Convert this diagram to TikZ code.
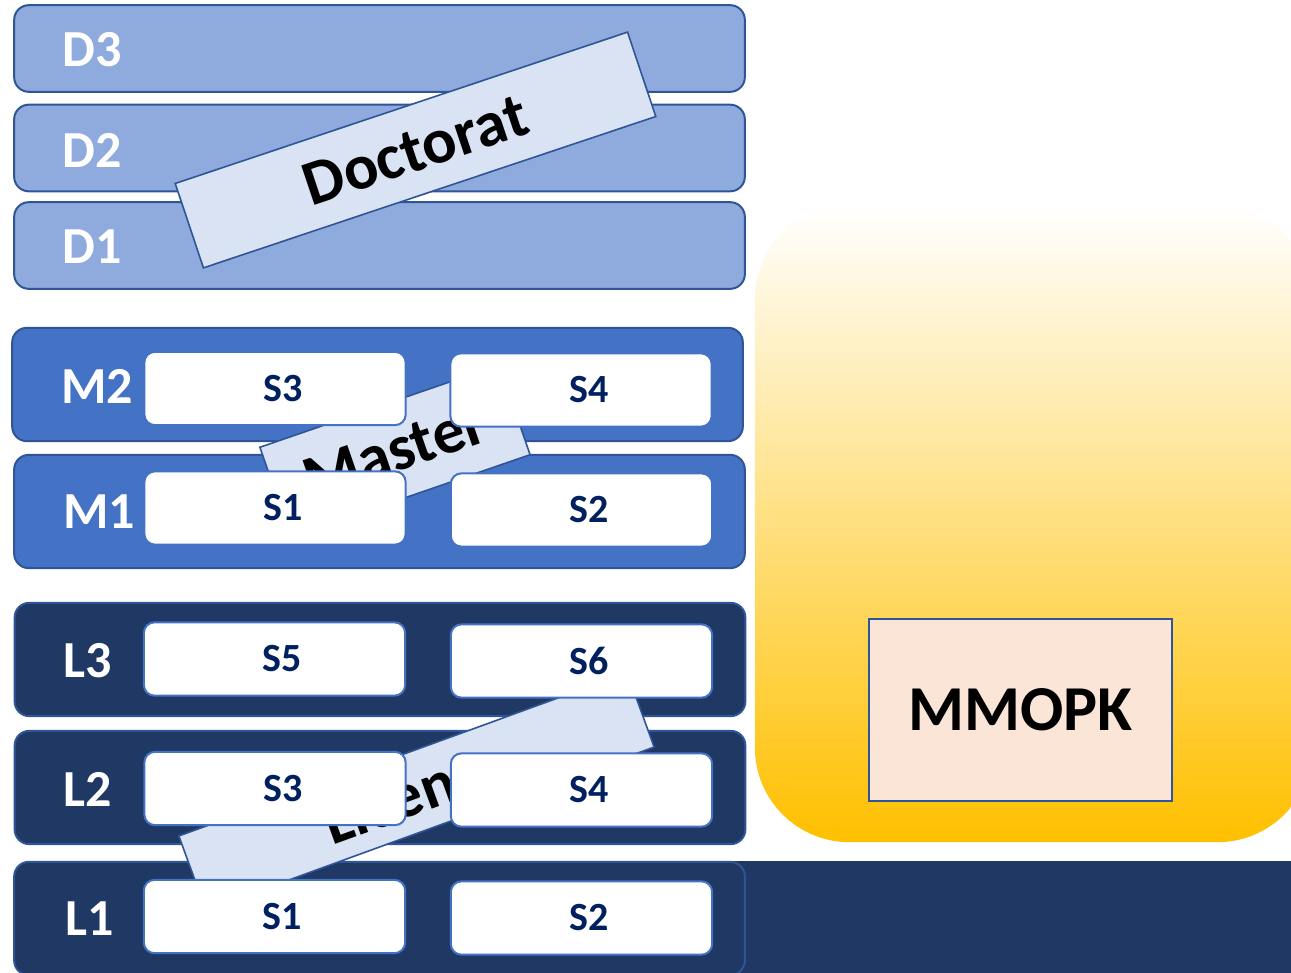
\documentclass[tikz,border=0pt]{standalone}
\usepackage{fontspec}
\setmainfont{Carlito}
\definecolor{dblue}{HTML}{8FAADC}
\definecolor{mblue}{HTML}{4472C4}
\definecolor{lnavy}{HTML}{203864}
\definecolor{edgeblue}{HTML}{2F5597}
\definecolor{paper}{HTML}{DAE3F3}
\definecolor{sblue}{HTML}{002060}
\definecolor{gold}{HTML}{FFC000}
\definecolor{cream}{HTML}{F8E2A0}
\definecolor{peach}{HTML}{FBE5D6}
\begin{document}
\begin{tikzpicture}[
    x=0.75pt, y=-0.75pt,
    bar/.style={draw=edgeblue, line width=1.5pt, rounded corners=11pt, minimum width=548pt},
    dbar/.style={bar, fill=dblue, minimum height=65pt},
    mbar/.style={bar, fill=mblue, minimum height=85pt},
    lbar/.style={bar, fill=lnavy, minimum height=85pt},
    sem/.style={draw=mblue, line width=1.5pt, fill=white, rounded corners=8pt, minimum width=196pt, minimum height=55pt, text=sblue, font=\fontsize{30}{30}\selectfont\bfseries, execute at begin node={\hspace*{12pt}}},
    yearlab/.style={text=white, font=\fontsize{39}{39}\selectfont\bfseries},
    cycle/.style={draw=edgeblue, line width=1.2pt, fill=paper, font=\fontsize{48}{48}\selectfont\bfseries}
]
    \clip (0,0) rectangle (1291,973);

    % Right side
    \node[rounded corners=71pt, minimum width=418pt, minimum height=478pt, top color=white, middle color=cream, bottom color=gold] (panel) at (1033.5,523.5) {};
    \node[fill=lnavy, minimum width=450pt, minimum height=88pt] (base) at (1000,920) {};
    \node[draw=edgeblue, line width=1.5pt, fill=peach, minimum width=227pt, minimum height=136.5pt, font=\fontsize{48}{48}\selectfont\bfseries] (mmopk) at (1020.5,710) {MMOPK};

    % Doctorat years
    \node[dbar] (d3) at (379.5,48.5) {};
    \node[dbar] (d2) at (379.5,148) {};
    \node[dbar] (d1) at (379.5,245.5) {};

    % Master years
    \node[mbar] (m2) at (377.5,384.5) {};
    \node[mbar] (m1) at (379.5,511.5) {};

    % Licence years
    \node[lbar] (l3) at (380,659.5) {};
    \node[lbar] (l2) at (380,787.5) {};
    \node[lbar] (l1) at (379.5,918.5) {};

    % Cycles
    \node[cycle, rotate=18.5, minimum width=357.75pt, minimum height=66.75pt] (doc) at (415.5,150) {Doctorat};
    \node[cycle, rotate=19, minimum width=189.75pt, minimum height=71.25pt] (mas) at (395,451) {Master};
    \node[cycle, rotate=20, minimum width=357.75pt, minimum height=59.25pt] (lic) at (416.5,791.5) {Licence};

    % Semesters
    \node[sem] (m2a) at (275,388.5) {S3};
    \node[sem] (m2b) at (581,390) {S4};
    \node[sem] (m1a) at (275,508) {S1};
    \node[sem] (m1b) at (581.5,510) {S2};
    \node[sem] (l3a) at (274.5,659) {S5};
    \node[sem] (l3b) at (581.5,661) {S6};
    \node[sem] (l2a) at (275,788.5) {S3};
    \node[sem] (l2b) at (581.5,790) {S4};
    \node[sem] (l1a) at (274.5,916.5) {S1};
    \node[sem] (l1b) at (581.5,918) {S2};

    % Year labels
    \node[yearlab] (d3t) at (92,50) {D3};
    \node[yearlab] (d2t) at (92,150) {D2};
    \node[yearlab] (d1t) at (92,247) {D1};
    \node[yearlab] (m2t) at (97,386) {M2};
    \node[yearlab] (m1t) at (99,512) {M1};
    \node[yearlab] (l3t) at (88,661) {L3};
    \node[yearlab] (l2t) at (88,789) {L2};
    \node[yearlab] (l1t) at (90,919) {L1};
\end{tikzpicture}
\end{document}
